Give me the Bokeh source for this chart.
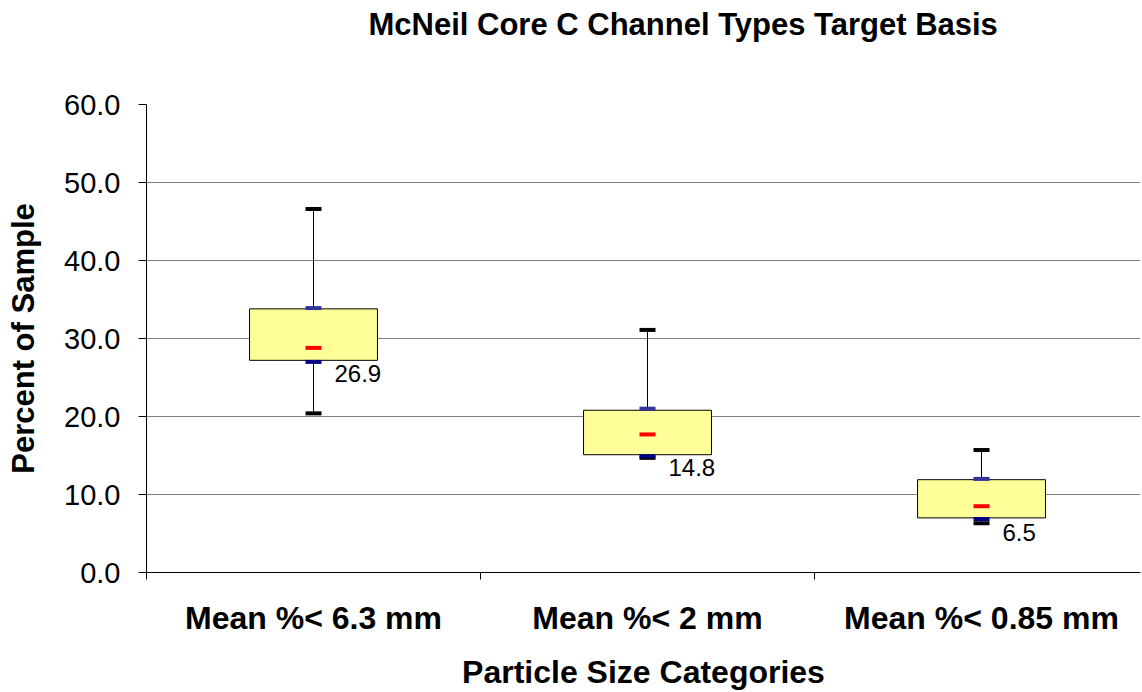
from bokeh.plotting import figure
from bokeh.models import FixedTicker, NumeralTickFormatter, Range1d, Title
from bokeh.embed import file_html
from bokeh.resources import INLINE
from bokeh.core.properties import value

# ---- data ----
title_text = "McNeil Core C Channel Types  Target Basis"
categories = ["Mean %< 6.3 mm", "Mean %< 2 mm", "Mean %< 0.85 mm"]
minimum = [20.4, 14.7, 6.3]
maximum = [46.6, 31.1, 15.7]
box_bottom = [27.2, 15.1, 7.0]
box_top = [33.8, 20.8, 11.9]
q1 = [27.0, 14.9, 6.85]
q3 = [33.9, 21.0, 12.0]
mean = [28.8, 17.7, 8.5]
q1_labels = [26.9, 14.8, 6.5]
y_ticks = [0, 10, 20, 30, 40, 50, 60]

x_pos = [i + 0.5 for i in range(len(categories))]
boundaries = [i for i in range(len(categories) + 1)]

FONT = "Liberation Sans"

p = figure(width=1142, height=692, title=None,
           x_range=Range1d(0, 2.976), y_range=Range1d(0, 60),
           output_backend="svg", toolbar_location=None,
           min_border_left=146, min_border_right=2,
           min_border_top=104, min_border_bottom=118)

p.background_fill_color = "white"
p.border_fill_color = "white"
p.outline_line_color = None

# spacer between title and plot area, then the title itself
spacer = Title(text=" ", text_font=FONT, text_font_size="10px", standoff=48,
               vertical_align="top")
p.add_layout(spacer, "above")
main_title = Title(text=title_text, text_font=FONT, text_font_size="31px",
                   text_font_style="bold", text_color="black",
                   align="left", offset=222, vertical_align="top", standoff=0)
p.add_layout(main_title, "above")

# whiskers
p.segment(x0=x_pos, y0=minimum, x1=x_pos, y1=maximum, line_color="black", line_width=1)
# boxes
p.vbar(x=x_pos, width=0.383, bottom=box_bottom, top=box_top,
       fill_color="#FFFF99", line_color="black", line_width=1)

# markers
def marks(ys, color):
    p.rect(x=x_pos, y=ys, width=16, height=4, width_units="screen", height_units="screen",
           fill_color=color, line_color=None)

marks(maximum, "black")
marks(minimum, "black")
marks(q3, "#333399")
marks(q1, "#000080")
marks(mean, "#FF0000")

# data labels
p.text(x=x_pos, y=q1_labels, text=[f"{v:.1f}" for v in q1_labels],
       x_offset=21, y_offset=2, text_align="left", text_baseline="top",
       text_font=value(FONT), text_font_size="24px", text_color="black")

# grid
p.xgrid.visible = False
p.ygrid.grid_line_color = "#808080"
p.ygrid.grid_line_width = 1

# y axis
yax = p.yaxis[0]
yax.ticker = FixedTicker(ticks=y_ticks)
yax.formatter = NumeralTickFormatter(format="0.0")
yax.axis_line_color = "black"
yax.major_tick_line_color = "black"
yax.major_tick_out = 8
yax.major_tick_in = 0
yax.minor_tick_line_color = None
yax.major_label_text_font = FONT
yax.major_label_text_font_size = "29px"
yax.major_label_text_color = "black"
yax.major_label_standoff = 18
yax.axis_label = "Percent of Sample"
yax.axis_label_text_font = FONT
yax.axis_label_text_font_size = "31px"
yax.axis_label_text_font_style = "bold"
yax.axis_label_text_color = "black"
yax.axis_label_standoff = 20

# x axis
xax = p.xaxis[0]
xax.ticker = FixedTicker(ticks=x_pos, minor_ticks=boundaries)
xax.major_label_overrides = {x: c for x, c in zip(x_pos, categories)}
xax.axis_line_color = "black"
xax.major_tick_line_color = None
xax.major_tick_out = 0
xax.major_tick_in = 0
xax.minor_tick_line_color = "black"
xax.minor_tick_out = 7
xax.minor_tick_in = 0
xax.major_label_text_font = FONT
xax.major_label_text_font_size = "32px"
xax.major_label_text_font_style = "bold"
xax.major_label_text_color = "black"
xax.major_label_standoff = 20
xax.axis_label = "Particle Size Categories"
xax.axis_label_text_font = FONT
xax.axis_label_text_font_size = "32px"
xax.axis_label_text_font_style = "bold"
xax.axis_label_text_color = "black"
xax.axis_label_standoff = 15

open("out.html", "w").write(file_html(p, INLINE))
